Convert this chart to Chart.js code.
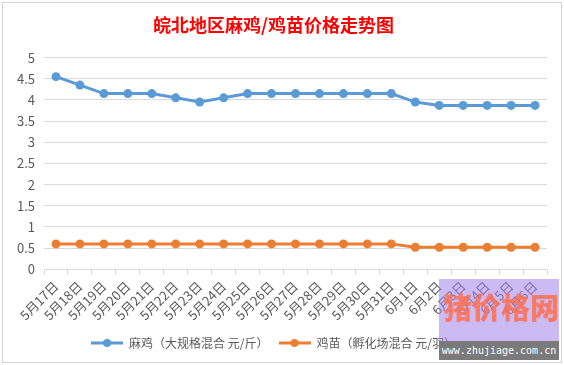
<!DOCTYPE html>
<html>
<head>
<meta charset="utf-8">
<script src="https://cdn.jsdelivr.net/npm/chart.js@4"></script>
<style>
    body { margin: 0; background: #fff; }
    #wrap { position: relative; width: 564px; height: 365px; }
    #frame { position: absolute; left: 2px; top: 2px; width: 558px; height: 359px; border: 1px solid #d4d4d4; pointer-events: none; }
    #mark { position: absolute; left: 439px; top: 279px; width: 120px; height: 81px; background: rgba(160, 130, 235, 0.55); overflow: hidden; }
    #markText { position: absolute; left: 4px; top: 6px; font: 900 29px "Noto Sans CJK SC", sans-serif; color: rgba(255, 110, 80, 0.85); }
    #markBar { position: absolute; left: 0; bottom: 0; width: 120px; height: 19px; background: #7a7a7a; color: #fff; font: 10px "DejaVu Sans Mono", monospace; line-height: 19px; text-align: center; }
</style>
</head>
<body>
<div id="wrap">
    <canvas id="priceChart" width="564" height="365"></canvas>
    <div id="frame"></div>
    <div id="mark"><div id="markText">猪价格网</div><div id="markBar">www.zhujiage.com.cn</div></div>
</div>
<script>
const dates = ["5月17日", "5月18日", "5月19日", "5月20日", "5月21日", "5月22日", "5月23日", "5月24日", "5月25日", "5月26日", "5月27日",
    "5月28日", "5月29日", "5月30日", "5月31日", "6月1日", "6月2日", "6月3日", "6月4日", "6月5日", "6月6日"];
const maJiPrices = [4.55, 4.35, 4.15, 4.15, 4.15, 4.05, 3.95, 4.05, 4.15, 4.15, 4.15, 4.15, 4.15, 4.15, 4.15, 3.95, 3.87, 3.87, 3.87, 3.87, 3.87];
const jiMiaoPrices = [0.6, 0.6, 0.6, 0.6, 0.6, 0.6, 0.6, 0.6, 0.6, 0.6, 0.6, 0.6, 0.6, 0.6, 0.6, 0.52, 0.52, 0.52, 0.52, 0.52, 0.52];

// legend marker: short line with a dot in the middle
function legendMarker(color) {
    const c = document.createElement("canvas");
    c.width = 32; c.height = 10;
    const g = c.getContext("2d");
    g.strokeStyle = color; g.lineWidth = 3;
    g.beginPath(); g.moveTo(0, 5); g.lineTo(32, 5); g.stroke();
    g.fillStyle = color;
    g.beginPath(); g.arc(16, 5, 4, 0, Math.PI * 2); g.fill();
    return c;
}

const gridColor = "#d9d9d9";
const textColor = "#595959";

new Chart(document.getElementById("priceChart").getContext("2d"), {
    type: "line",
    data: {
        labels: dates,
        datasets: [{
            label: "麻鸡（大规格混合 元/斤）",
            data: maJiPrices,
            borderColor: "#5b9bd5",
            backgroundColor: "#5b9bd5",
            borderWidth: 3,
            pointRadius: 4.5,
            pointBorderWidth: 0,
            tension: 0
        }, {
            label: "鸡苗（孵化场混合 元/羽）",
            data: jiMiaoPrices,
            borderColor: "#ed7d31",
            backgroundColor: "#ed7d31",
            borderWidth: 3,
            pointRadius: 4.5,
            pointBorderWidth: 0,
            tension: 0
        }]
    },
    options: {
        responsive: false,
        animation: false,
        layout: { padding: { left: 0, right: 17, top: 12, bottom: 6 } },
        plugins: {
            title: {
                display: true,
                text: "皖北地区麻鸡/鸡苗价格走势图",
                color: "#ff0000",
                font: { family: "'Noto Sans CJK SC'", size: 18, weight: "bold" },
                padding: { top: 2, bottom: 22 }
            },
            legend: {
                position: "bottom",
                labels: {
                    color: textColor,
                    font: { family: "'Noto Sans CJK SC'", size: 12 },
                    usePointStyle: true,
                    pointStyleWidth: 32,
                    boxHeight: 10,
                    padding: 10,
                    generateLabels: function(chart) {
                        return chart.data.datasets.map((ds, i) => ({
                            text: ds.label,
                            fontColor: textColor,
                            pointStyle: legendMarker(ds.borderColor),
                            hidden: false,
                            datasetIndex: i,
                            lineWidth: 0
                        }));
                    }
                }
            },
            tooltip: { enabled: false }
        },
        scales: {
            x: {
                offset: true,
                grid: { offset: true, drawOnChartArea: false, drawTicks: true, tickLength: 5, color: gridColor },
                border: { color: gridColor },
                ticks: {
                    autoSkip: false,
                    maxRotation: 45,
                    minRotation: 45,
                    color: textColor,
                    font: { family: "'Noto Sans CJK SC'", size: 13 },
                    padding: 4
                }
            },
            y: {
                min: 0,
                max: 5,
                afterFit: function(scale) { scale.width = 44; },
                grid: { color: gridColor, drawTicks: false },
                border: { display: false },
                ticks: {
                    stepSize: 0.5,
                    color: textColor,
                    font: { family: "'Noto Sans CJK SC'", size: 13 },
                    padding: 9,
                    callback: function(value) { return String(value); }
                }
            }
        }
    }
});
</script>
</body>
</html>
